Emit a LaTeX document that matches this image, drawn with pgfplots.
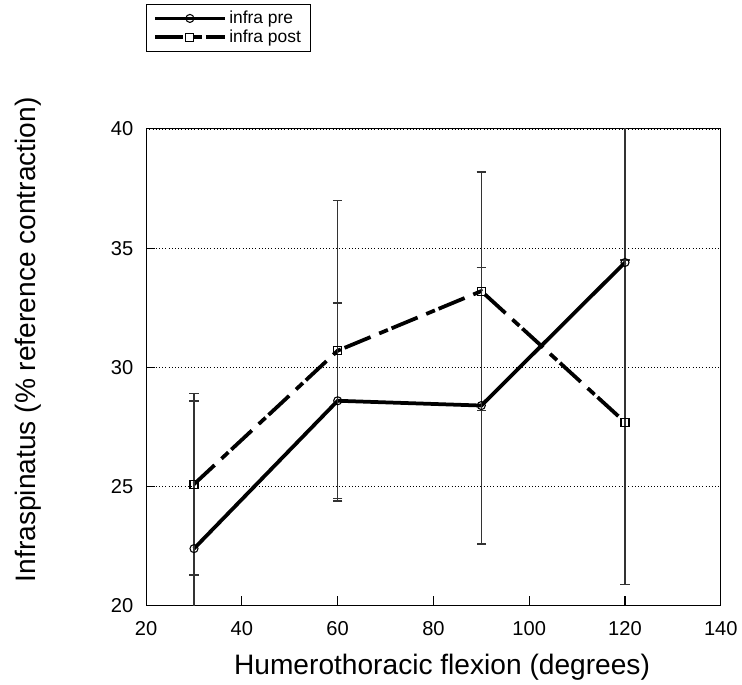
\documentclass[border=0pt]{standalone}
\usepackage{fontspec}
\setmainfont{Liberation Sans}
\usepackage{pgfplots}
\pgfplotsset{compat=1.18}
\definecolor{ebar}{HTML}{333333}
\begin{document}
\begin{tikzpicture}
\begin{axis}[
  scale only axis,
  width=429pt, height=356pt,
  xmin=20, xmax=140, ymin=20, ymax=40,
  xtick={20,40,60,80,100,120,140},
  ytick={20,25,30,35,40},
  tick pos=left,
  tick align=inside,
  major tick length=7pt,
  /pgf/number format/assume math mode=true,
  ticklabel style={font=\fontsize{15}{17}\selectfont},
  xticklabel style={yshift=-8pt},
  yticklabel style={xshift=-6pt},
  ymajorgrids,
  grid style={black, dotted, line width=0.6pt},
  axis line style={line width=0.8pt},
  tick style={line width=0.8pt, black},
  xlabel={Humerothoracic flexion (degrees)},
  ylabel={Infraspinatus (\% reference contraction)},
  label style={font=\fontsize{21}{25}\selectfont},
  xlabel style={at={(axis description cs:0.515,-0.128)}, anchor=center},
  ylabel style={at={(axis description cs:-0.205,0.558)}, anchor=center, rotate=0},
  legend style={at={(rel axis cs:0,1.262)}, anchor=north west, draw=black, line width=0.6pt,
    font=\fontsize{13}{15}\selectfont, inner xsep=5pt, inner ysep=3pt, row sep=-1pt},
  legend cell align=left,
  legend image code/.code={\draw[#1, mark repeat=2, mark phase=2] plot coordinates {(0pt,0pt) (26pt,0pt) (52pt,0pt)};},
]
\addplot[black, line width=2.8pt, mark=o, mark size=3pt,
  mark options={solid, line width=0.8pt, fill=none},
  error bars/.cd, y dir=both, y explicit,
  error bar style={ebar, line width=1.1pt, solid},
  error mark options={rotate=90, mark size=3.5pt, ebar, line width=1.1pt}]
  coordinates {
  (30,22.4) +- (0,6.2)
  (60,28.6) +- (0,4.1)
  (90,28.4) +- (0,5.8)
  (120,34.4) +- (0,13.5)
  };
\addlegendentry{infra pre}
\addplot[black, line width=2.8pt, dash pattern=on 21pt off 7pt on 7pt off 3pt, mark=square, mark size=3pt,
  mark options={solid, line width=0.8pt, fill=none},
  error bars/.cd, y dir=both, y explicit,
  error bar style={ebar, line width=1.1pt, solid},
  error mark options={rotate=90, mark size=3.5pt, ebar, line width=1.1pt}]
  coordinates {
  (30,25.1) +- (0,3.8)
  (60,30.7) +- (0,6.3)
  (90,33.2) +- (0,5.0)
  (120,27.7) +- (0,6.8)
  };
\addlegendentry{infra post}
\end{axis}
\path ([xshift=-8pt]current bounding box.west) ([yshift=3pt]current bounding box.north);
\end{tikzpicture}
\end{document}
